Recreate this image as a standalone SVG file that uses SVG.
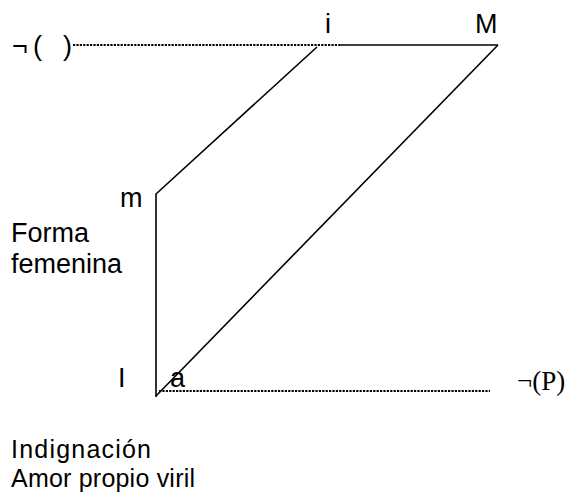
<svg xmlns="http://www.w3.org/2000/svg" width="579" height="498" viewBox="0 0 579 498">
<style>
.s{font-family:"Liberation Sans",Arial,sans-serif;font-size:27px;fill:#000}
.b{font-family:"Liberation Sans",Arial,sans-serif;font-size:25px;fill:#000}
.t{font-family:"Liberation Serif","Times New Roman",serif;font-size:27px;fill:#000}
.ln{stroke:#000;stroke-width:1.6;fill:none}
.dt{stroke:#000;stroke-width:2.2;fill:none;stroke-dasharray:2.2 1.2}
</style>
<rect width="579" height="498" fill="#fff"/>
<g id="connectors">
<line class="dt" x1="73" y1="45" x2="340" y2="45"/>
<line class="ln" x1="340" y1="45" x2="498" y2="45"/>
<line class="ln" x1="498" y1="45" x2="156" y2="396"/>
<polyline class="ln" points="317,47 156,194 156,397"/>
<line class="dt" x1="159" y1="391" x2="490" y2="391"/>
</g>
<g id="node-notP-top"><text class="s" x="12" y="55">¬</text><text class="s" x="33" y="55">(</text><text class="s" x="63" y="55">)</text></g>
<g id="node-i"><text class="s" x="325" y="33">i</text></g>
<g id="node-M"><text class="s" x="475" y="33">M</text></g>
<g id="node-m"><text class="s" x="120" y="207">m</text></g>
<g id="node-forma"><text class="s" x="11" y="242">Forma</text><text class="s" x="11" y="273">femenina</text></g>
<g id="node-I"><text class="s" x="118" y="387">I</text></g>
<g id="node-a"><text class="s" x="170" y="387">a</text></g>
<g id="node-notP"><text class="t" x="517" y="390">¬(P)</text></g>
<g id="node-indignacion"><text class="b" x="11" y="458" textLength="140">Indignación</text><text class="b" x="11" y="487" textLength="184">Amor propio viril</text></g>
</svg>
